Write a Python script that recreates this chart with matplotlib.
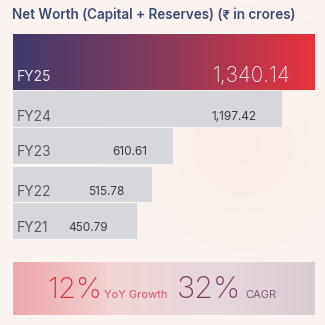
import matplotlib.pyplot as plt
import numpy as np
from matplotlib.colors import LinearSegmentedColormap
from matplotlib.patches import Rectangle

years = ['FY25', 'FY24', 'FY23', 'FY22', 'FY21']
net_worth = [1340.14, 1197.42, 610.61, 515.78, 450.79]
value_labels = ['1,340.14', '1,197.42', '610.61', '515.78', '450.79']
# bar lengths as drawn in the picture (not to scale for the small years)
bar_len = [1340.14, 1194.0, 710.0, 617.0, 551.0]
yoy_growth = 12
cagr = 32

fam = ['Inter', 'DejaVu Sans']

fig = plt.figure(figsize=(3.25, 3.25), dpi=100)

# background
bg = fig.add_axes([0, 0, 1, 1])
bg.set_xlim(0, 325)
bg.set_ylim(325, 0)
bg.axis('off')
xx, yy = np.meshgrid(np.linspace(0, 1, 200), np.linspace(0, 1, 200))
glow = np.exp(-((xx - 0.75) ** 2 + (yy - 0.45) ** 2) / 0.08)
base = np.array([0.985, 0.955, 0.94])
tint = np.array([0.97, 0.91, 0.89])
img = base[None, None, :] * (1 - 0.5 * glow[..., None]) + tint[None, None, :] * 0.5 * glow[..., None]
bg.imshow(img, extent=[0, 325, 325, 0], aspect='auto', zorder=0)

# bottom summary box
box = Rectangle((13, 262), 302, 53, facecolor='none', edgecolor='none', zorder=2)
bg.add_patch(box)
bcm = LinearSegmentedColormap.from_list('bx', ['#eea7ab', '#f2d4d5', '#e6d8dc', '#d9cdd4'])
bi = bg.imshow(np.linspace(0, 1, 256)[None, :], cmap=bcm, aspect='auto',
               extent=[13, 315, 315, 262], zorder=2)
bi.set_clip_path(box)

# layout of the bar rows in pixels (top, bottom)
rows = [(34, 90), (91, 127), (128, 164), (167, 202), (203, 239)]

ax = fig.add_axes([13 / 325, 1 - 239 / 325, 302 / 325, 205 / 325])
ax.set_xlim(0, 1340.14)
ax.set_ylim(239, 34)
ax.axis('off')

tops = [r[0] for r in rows]
hts = [r[1] - r[0] for r in rows]
bars = ax.barh(tops, bar_len, height=hts, align='edge', color='#d6d7da', zorder=2)

# gradient on the FY25 bar
grad = LinearSegmentedColormap.from_list('nw', ['#3f3b6c', '#8a3a5c', '#e8333b'])
b0 = bars[0]
b0.set_facecolor('none')
g = ax.imshow(np.linspace(0, 1, 256)[None, :], cmap=grad, aspect='auto',
              extent=[0, bar_len[0], rows[0][1], rows[0][0]], zorder=3)
g.set_clip_path(b0)

# text overlay
tx = fig.add_axes([0, 0, 1, 1])
tx.set_xlim(0, 325)
tx.set_ylim(325, 0)
tx.axis('off')
tx.patch.set_alpha(0)

lab_y = [77, 117, 152, 192, 228]
val_x = [290, 257, 112, 88, 68]
for i, (yr, lbl) in enumerate(zip(years, value_labels)):
    if i == 0:
        tx.text(17, lab_y[i], yr, fontsize=10, color='#ece6f2', va='center', family=fam)
        tx.text(val_x[i], lab_y[i] - 1, lbl, fontsize=15, color='#fbeef0', va='center',
                ha='right', family=fam, fontweight='light')
    else:
        tx.text(17, lab_y[i], yr, fontsize=10, color='#5c5c60', va='center', family=fam)
        tx.text(val_x[i], lab_y[i], lbl, fontsize=8.5, color='#3e3e42', va='center',
                ha='right' if i == 1 else 'left', family=fam)

tx.text(12, 15, 'Net Worth (Capital + Reserves) (₹ in crores)', fontsize=9.7, color='#3b4a6e',
        va='center', family=fam, fontweight='semibold')

base_y = 298
tx.text(47, base_y, f'{yoy_growth}%', fontsize=21, color='#d93440', va='baseline',
        family=fam, fontweight='light')
tx.text(104, base_y, 'YoY Growth', fontsize=8, color='#d2586a', va='baseline', family=fam)
tx.text(177, base_y, f'{cagr}%', fontsize=22, color='#7d3d64', va='baseline',
        family=fam, fontweight='light')
tx.text(245, base_y, 'CAGR', fontsize=8, color='#7e5d7c', va='baseline', family=fam)

fig.savefig('out.png', dpi=100)
